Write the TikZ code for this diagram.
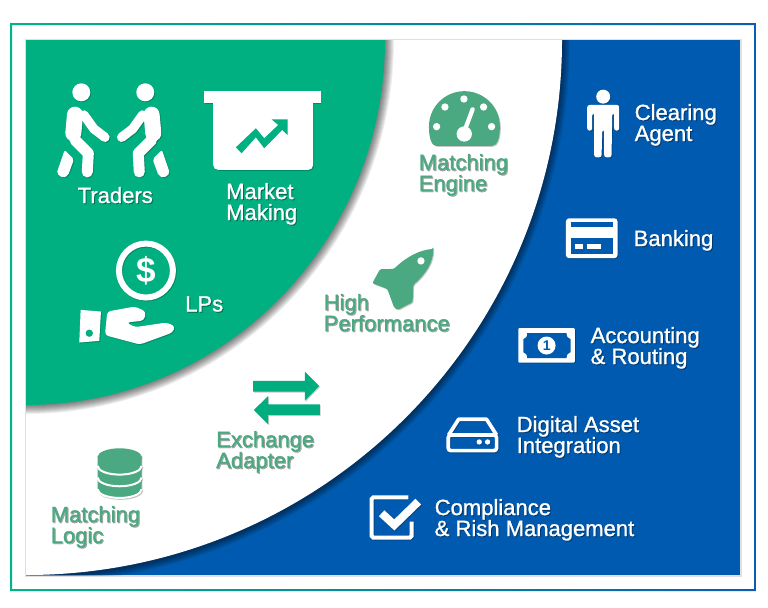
\documentclass[tikz,border=0pt]{standalone}
\usepackage{fontspec}
\setmainfont{Liberation Sans}
\newfontfamily\lblfont{Liberation Sans}[FakeBold=1.2]
\usetikzlibrary{calc}
\definecolor{panelgreen}{HTML}{00B080}
\definecolor{panelblue}{HTML}{005BB0}
\definecolor{textgreen}{HTML}{4BA982}
\definecolor{arrowgreen}{HTML}{00AD7E}
\definecolor{framegreen}{HTML}{00B587}
\definecolor{frameblue}{HTML}{0A5CB4}
\tikzset{
  lbl/.style={anchor=base west, align=left, inner sep=0pt, font=\lblfont\fontsize{18.8}{17.9}\selectfont},
  iconscope/.style={shift={#1}, x=0.01cm, y=-0.01cm},
  curveshade/.style={black, opacity=.065}
}
% texto con sombra: nombre, posicion, color, texto
\newcommand{\shadelabel}[4]{
    \node[lbl, opacity=.3, xshift=0.03cm, yshift=-0.03cm] at (#2) {#4};
    \node[lbl, text=#3] (#1) at (#2) {#4};
}
% icono con sombra: tinta, huecos, dibujo
\newcommand{\withshadow}[3]{
    \begin{scope}[shift={(0.9,0.9)}, opacity=.22]
        \colorlet{ink}{black}\colorlet{hole}{black}
        #3
    \end{scope}
    \colorlet{ink}{#1}\colorlet{hole}{#2}
    #3
}
\newcommand{\walker}{
    \fill[ink] (-96,97) circle (27);
    \draw[ink, line width=0.48cm, line cap=round, line join=round] (-115,164) -- (-120,220);
    \draw[ink, line width=0.28cm, line cap=round, line join=round] (-88,165) -- (-58,207) -- (-25,232);
    \draw[ink, line width=0.33cm, line cap=round, line join=round] (-115,240) -- (-75,280) -- (-78,336);
    \fill[ink, rounded corners=0.06cm] (-146,270) -- (-118,298) -- (-136,347) -- (-152,354) -- (-170,340) -- cycle;
}
\newcommand{\boardicon}{
    \fill[ink] (553,92) rectangle (902,130);
    \fill[ink, rounded corners=0.15cm] (580,110) rectangle (880,330);
    \fill[hole] (648,262) -- (708,205) -- (733,235) -- (775,195) -- (755,178) -- (803,178)
        -- (803,225) -- (787,210) -- (733,265) -- (708,232) -- (665,280) -- cycle;
}
\newcommand{\handicon}{
    \draw[ink, line width=0.18cm] (378,632) circle (81);
    \fill[ink] (182,750) -- (243,755) -- (238,843) -- (178,848) -- cycle;
    \fill[hole] (208,820) circle (11);
    \fill[ink, rounded corners=0.1cm] (262,755) -- (345,740) -- (378,755) -- (372,782) -- (320,788)
        -- (345,802) -- (440,788) -- (466,800) -- (458,818) -- (360,854) -- (255,826) -- cycle;
}
\newcommand{\gaugeicon}{
    \fill[ink] (350,228) .. controls (335,228) and (327,205) .. (327,170)
        arc[start angle=180, end angle=360, x radius=106.5, y radius=106.5]
        .. controls (540,205) and (532,228) .. (515,228) -- cycle;
    \foreach \dx/\dy in {375/111, 432/87, 491/111, 350/170, 515/170} {
        \fill[hole] (\dx,\dy) circle (11);
    }
    \fill[hole] (433,192) circle (23);
    \draw[hole, line width=0.13cm, line cap=round] (433,185) -- (458,118);
}
\newcommand{\rocketicon}{
    \fill[ink, rounded corners=0.04cm] (340,537) .. controls (300,540) and (260,560) .. (222,597)
        -- (180,598) -- (157,640) -- (202,657) -- (222,712) -- (233,720) -- (278,697) -- (280,645)
        .. controls (320,610) and (340,575) .. (340,537) -- cycle;
    \fill[hole] (303,573) circle (11);
}
\newcommand{\agenticon}{
    \fill[ink] (730,80) circle (21);
    \fill[ink, rounded corners=0.07cm] (682,182) -- (682,105) -- (778,105) -- (778,182) -- (763,182)
        -- (763,130) -- (757,130) -- (755,262) -- (733,262) -- (733,180) -- (727,180) -- (725,262)
        -- (703,262) -- (703,130) -- (697,130) -- (697,182) -- cycle;
}
\newcommand{\cardicon}{
    \fill[ink, rounded corners=0.1cm] (618,445) rectangle (773,565);
    \fill[hole] (633,457) rectangle (760,470);
    \fill[hole] (633,505) rectangle (760,552);
    \fill[ink] (645,522) rectangle (668,538);
    \fill[ink] (680,522) rectangle (722,538);
}
\newcommand{\noteicon}{
    \fill[ink, rounded corners=0.03cm] (475,775) rectangle (645,878);
    \fill[hole] (502,790) -- (620,790) .. controls (620,800) and (624,806) .. (632,808) -- (632,847)
        .. controls (624,849) and (620,855) .. (620,865) -- (502,865)
        .. controls (502,855) and (498,849) .. (490,847) -- (490,808)
        .. controls (498,806) and (502,800) .. (502,790) -- cycle;
    \fill[ink] (560,827) circle (27);
}
\newcommand{\driveicon}{
    \draw[ink, line width=0.11cm, line join=round] (326,135) -- (356,88) -- (440,88) -- (470,135);
    \draw[ink, line width=0.11cm, rounded corners=0.08cm] (325,135) rectangle (470,182);
    \fill[ink] (418,156) circle (8);
    \fill[ink] (443,156) circle (8);
}
\newcommand{\checkicon}{
    \draw[ink, line width=0.12cm, rounded corners=0.05cm] (205,322) -- (95,322) -- (95,443) -- (215,443) -- (215,395);
    \draw[ink, line width=0.24cm] (125,370) -- (163,405) -- (235,335);
}
\newcommand{\swapicon}{
    \fill[ink] (760,63) -- (915,63) -- (915,35) -- (958,78) -- (915,122) -- (915,95) -- (760,95) -- cycle;
    \fill[ink] (960,133) -- (805,133) -- (805,108) -- (762,150) -- (805,193) -- (805,165) -- (960,165) -- cycle;
}
\newcommand{\stackicon}{
    \foreach \yy in {383,348,313} {
        \fill[ink] (293,\yy-25) -- (293,\yy+5) arc[start angle=180, end angle=0, x radius=66, y radius=26]
            -- (425,\yy-25) -- cycle;
        \draw[hole, line width=0.06cm] (293,\yy+5) arc[start angle=180, end angle=0, x radius=66, y radius=26];
    }
    \fill[ink] (359,291) ellipse[x radius=66, y radius=26];
}

\begin{document}
\begin{tikzpicture}[x=0.03cm, y=-0.03cm]
    \useasboundingbox (0,0) rectangle (768,607);

    % Marco exterior
    \path[left color=framegreen, right color=frameblue, even odd rule]
        (10,23) rectangle (756,591) (12,25) rectangle (754,589);

    % Panel y arcos
    \fill[black!12] (24.5,38.5) rectangle (741.5,576.5);
    \fill[panelblue] (26,40) rectangle (740,575);
    \begin{scope}
        \clip (26,40) rectangle (740,575);
        \foreach \s in {1,...,8} {
            \fill[curveshade] (26,40) -- (562+\s,40) arc[start angle=0, end angle=90, x radius=536+\s, y radius=536+\s] -- cycle;
        }
        \fill[white] (26,40) -- (562,40) arc[start angle=0, end angle=90, x radius=536, y radius=535] -- cycle;
        \foreach \s in {1,...,9} {
            \fill[curveshade] (26,40) -- (385+\s,40) arc[start angle=0, end angle=90, x radius=359+\s, y radius=365+\s] -- cycle;
        }
        \fill[panelgreen] (26,40) -- (385,40) arc[start angle=0, end angle=90, x radius=359, y radius=365] -- cycle;
    \end{scope}

    % Iconos de la zona verde
    \withshadow{white}{panelgreen}{
        \foreach \side in {1,-1} {
            \begin{scope}[iconscope={(113.3,60)}, x=\side*0.01cm]
                \walker
            \end{scope}
        }
        \begin{scope}[iconscope={(20,60)}]
            \boardicon
            \handicon
        \end{scope}
    }
    \node[inner sep=0pt, text=white, font=\fontsize{30}{30}\selectfont\bfseries] (dollar) at (146,270.7) {\$};

    % Iconos de la zona blanca
    \withshadow{textgreen}{white}{
        \begin{scope}[iconscope={(320,70)}]
            \gaugeicon
            \rocketicon
        \end{scope}
        \begin{scope}[iconscope={(0,360)}]
            \stackicon
        \end{scope}
    }
    \withshadow{arrowgreen}{white}{
        \begin{scope}[iconscope={(0,360)}]
            \swapicon
        \end{scope}
    }

    % Iconos de la zona azul
    \withshadow{white}{panelblue}{
        \begin{scope}[iconscope={(360,70)}]
            \agenticon
            \cardicon
            \noteicon
        \end{scope}
        \begin{scope}[iconscope={(340,390)}]
            \driveicon
            \checkicon
        \end{scope}
    }
    \node[inner sep=0pt, text=panelblue, font=\fontsize{12}{12}\selectfont\bfseries] (noteOne) at (546.7,345.7) {1};

    % Etiquetas
    \shadelabel{traders}{77.5,203}{white}{Traders}
    \shadelabel{market}{226,220}{white}{Market\\Making}
    \shadelabel{lps}{185,311.5}{white}{LPs}
    \shadelabel{engine}{418.5,191}{textgreen}{Matching\\Engine}
    \shadelabel{high}{323.5,331}{textgreen}{High\\Performance}
    \shadelabel{adapter}{216,468}{textgreen}{Exchange\\Adapter}
    \shadelabel{logic}{50.5,543}{textgreen}{Matching\\Logic}
    \shadelabel{agent}{634.5,141}{white}{Clearing\\Agent}
    \shadelabel{banking}{633.5,246}{white}{Banking}
    \shadelabel{routing}{590.5,364}{white}{Accounting\\\& Routing}
    \shadelabel{asset}{516.5,453}{white}{Digital Asset\\Integration}
    \shadelabel{risk}{434.5,536}{white}{Compliance\\\& Rish Management}
\end{tikzpicture}
\end{document}
